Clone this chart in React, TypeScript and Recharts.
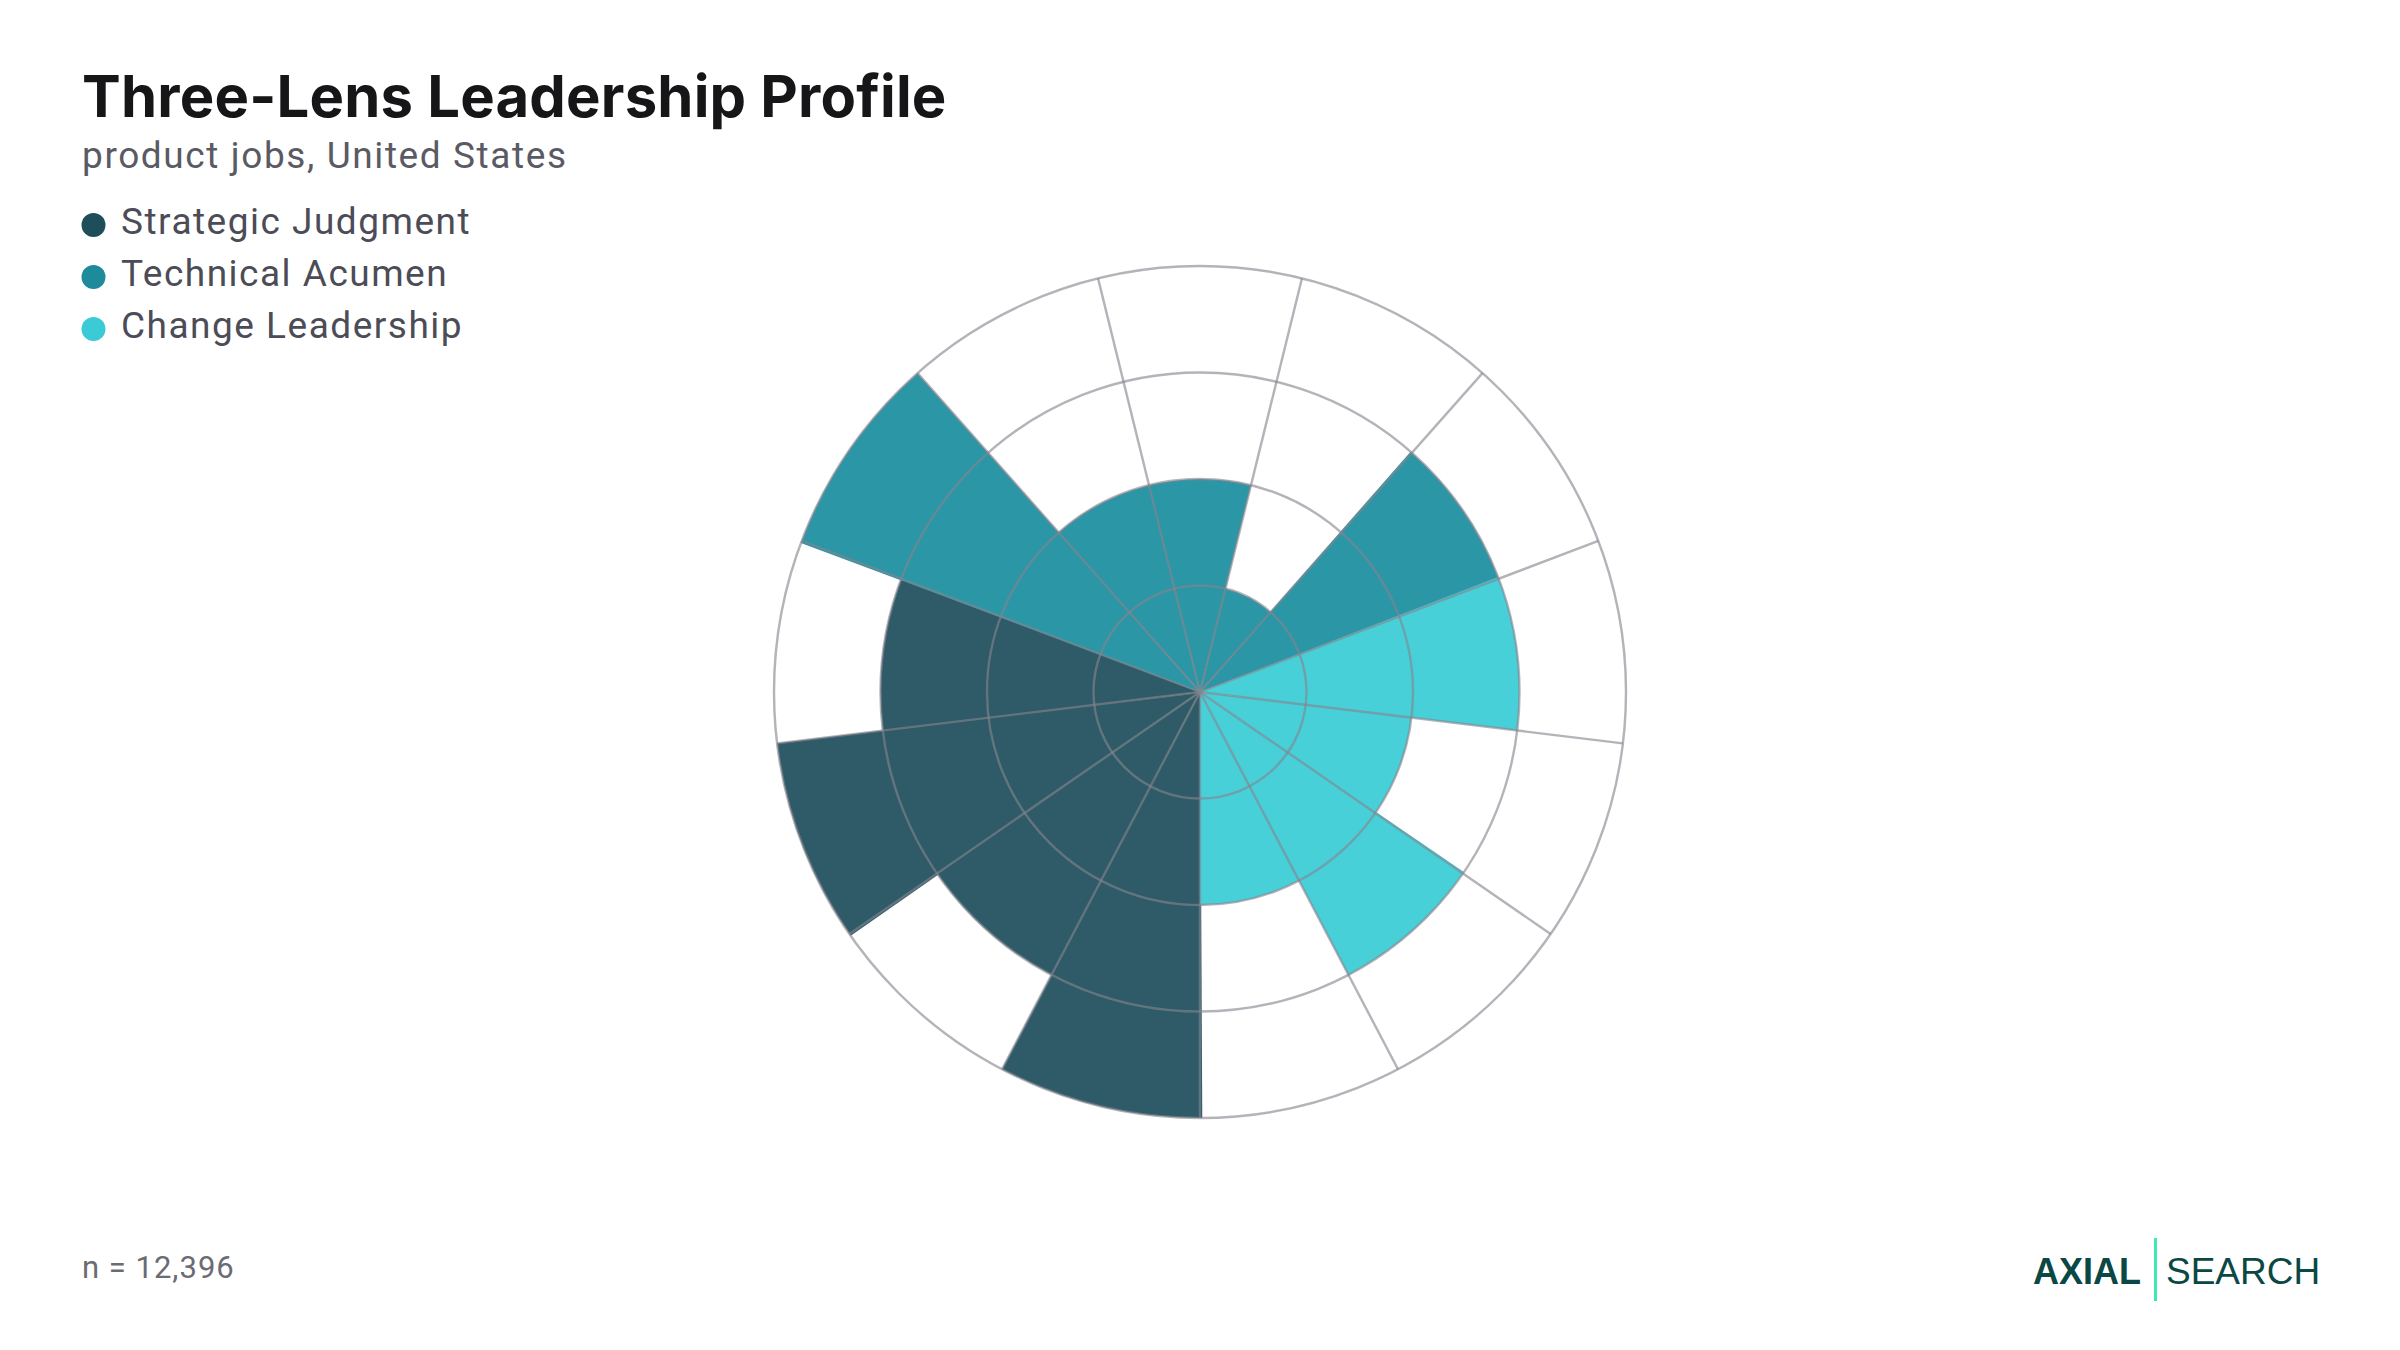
import React from 'react';
import {
  RadialBarChart,
  RadialBar,
  PolarGrid,
  PolarAngleAxis,
  PolarRadiusAxis,
  Cell
} from 'recharts';

/* Rose chart: three lenses, one wedge per competency, read clockwise from 6 o'clock */
const lenses = ['Strategic Judgment', 'Technical Acumen', 'Change Leadership'];
const lensDot = ['#1f4e5b', '#1d8b9c', '#3bcbd7'];
const lensFill = ['#2e5b67', '#2b96a6', '#48d0d9'];

const strategicScores = [4, 3, 4, 3];
const technicalScores = [4, 2, 2, 1, 3];
const changeScores = [3, 2, 3, 2];
const radiusTicks = [0, 1, 2, 3, 4];

const sampleSize = 12396;

const data = [strategicScores, technicalScores, changeScores].flatMap((scores, lens) =>
  scores.map((value, i) => ({ name: `${lenses[lens]} ${i + 1}`, lens, value }))
);

const W = 2400;
const H = 1350;
const CX = 1200;
const CY = 692;
const R = 426;
const slice = 360 / data.length;
// recharts lays each band counter-clockwise from its tick, so start one slice past 6 o'clock
const START = -90 - slice;
const spokes = data.map((_, i) => -90 - i * slice);

const sans = 'Roboto, "Noto Sans", sans-serif';

/* same polar frame twice: bars underneath, grid on top (the grid runs over the fills) */
function Polar({ children }: { children: React.ReactNode }) {
  return (
    <RadialBarChart
      width={W}
      height={H}
      cx={CX}
      cy={CY}
      innerRadius={0}
      outerRadius={R}
      startAngle={START}
      endAngle={START - 360}
      data={data}
      layout="centric"
      barCategoryGap={0}
      barGap={0}
      margin={{ top: 0, right: 0, bottom: 0, left: 0 }}
    >
      <PolarAngleAxis type="category" dataKey="name" tick={false} tickLine={false} axisLine={false} />
      <PolarRadiusAxis type="number" domain={[0, 4]} ticks={radiusTicks} tick={false} tickLine={false} axisLine={false} />
      {children}
    </RadialBarChart>
  );
}

export default function App() {
  return (
    <div style={{ position: 'relative', width: W, height: H, background: '#fff', overflow: 'hidden' }}>
      <style>{'body{margin:0;background:#fff}'}</style>

      <div style={{ position: 'absolute', left: 0, top: 0 }}>
        <Polar>
          <RadialBar dataKey="value" isAnimationActive={false}>
            {data.map((d) => (
              <Cell key={d.name} fill={lensFill[d.lens]} />
            ))}
          </RadialBar>
        </Polar>
      </div>

      <div style={{ position: 'absolute', left: 0, top: 0, pointerEvents: 'none' }}>
        <Polar>
          {/* invisible copy of the bars so the axes get their domain */}
          <RadialBar dataKey="value" isAnimationActive={false} fill="#ffffff" fillOpacity={0} />
          <PolarGrid
            gridType="circle"
            polarAngles={spokes}
            stroke="#85858e"
            strokeOpacity={0.62}
            strokeWidth={2.4}
          />
        </Polar>
      </div>

      <svg width={W} height={H} style={{ position: 'absolute', left: 0, top: 0, pointerEvents: 'none' }}>
        <text x={82} y={117} fontFamily='Inter, sans-serif' fontWeight={700} fontSize={58} fill="#161618" letterSpacing={0.2}>
          Three-Lens Leadership Profile
        </text>
        <text x={82} y={168} fontFamily={sans} fontSize={37} fill="#5a5a64" letterSpacing={1.6}>
          product jobs, United States
        </text>

        {lenses.map((l, i) => (
          <g key={l}>
            <circle cx={93.5} cy={225 + i * 52} r={12} fill={lensDot[i]} />
            <text x={121} y={234 + i * 52} fontFamily={sans} fontSize={37} fill="#4c4c57" letterSpacing={1.5}>
              {l}
            </text>
          </g>
        ))}

        <text x={82} y={1278} fontFamily={sans} fontSize={31} fill="#6b6b73" letterSpacing={1}>
          n = {sampleSize.toLocaleString('en-US')}
        </text>

        <text x={2033} y={1284} fontFamily='"Liberation Sans", Arial, sans-serif' fontWeight={700} fontSize={36} fill="#0b4744">
          AXIAL
        </text>
        <rect x={2154} y={1238} width={3} height={63} fill="#3ee8b2" />
        <text x={2166} y={1284} fontFamily='"Liberation Sans", Arial, sans-serif' fontSize={37} fill="#0b4744">
          SEARCH
        </text>
      </svg>
    </div>
  );
}
